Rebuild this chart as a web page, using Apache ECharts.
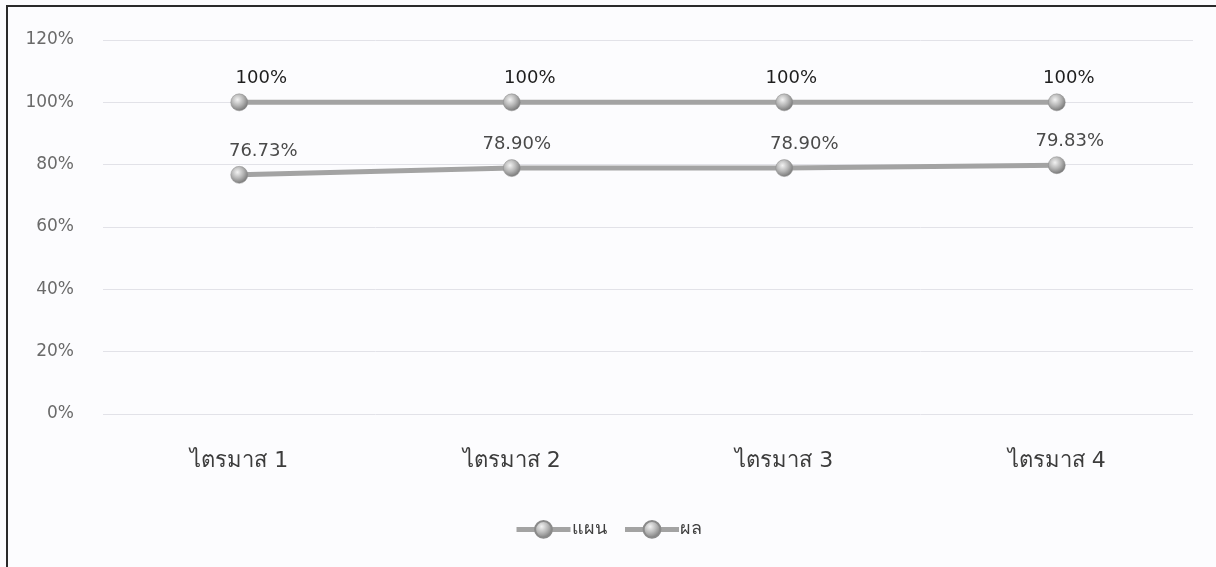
<!DOCTYPE html>
<html><head><meta charset="utf-8">
<script src="https://cdn.jsdelivr.net/npm/echarts@6/dist/echarts.min.js"></script>
<style>
html,body{margin:0;padding:0;background:#fcfcfe;}
#frame{position:absolute;left:6px;top:5px;width:1210px;height:562px;border-left:2px solid #2a2a2a;border-top:2px solid #2a2a2a;}
#c{position:absolute;left:0;top:0;width:1216px;height:567px;}
</style></head>
<body>
<div id="frame"></div>
<div id="c"></div>
<script>
const categories = ['ไตรมาส 1', 'ไตรมาส 2', 'ไตรมาส 3', 'ไตรมาส 4'];
const planValues = [100, 100, 100, 100];
const resultValues = [76.73, 78.90, 78.90, 79.83];
const planLabels = ['100%', '100%', '100%', '100%'];
const resultLabels = ['76.73%', '78.90%', '78.90%', '79.83%'];
const yTicks = [0, 20, 40, 60, 80, 100, 120];

// label placement (style only, as placed by hand in the original)
const planLabelDx = [22, 18, 7, 12];
const resultLabelDx = [24, 5, 20, 13];

const FONT = '"DejaVu Sans", "Noto Sans", sans-serif';
const sphere = {
  type: 'radial', x: 0.4, y: 0.35, r: 0.7,
  colorStops: [
    {offset: 0, color: '#f2f2f2'},
    {offset: 0.5, color: '#b4b4b4'},
    {offset: 1, color: '#6e6e6e'}
  ]
};
function mkSeries(name, vals, labels, dx, labelColor) {
  return {
    name: name, type: 'line',
    data: vals.map((v, i) => ({value: v, label: {offset: [dx[i], 0]}})),
    symbol: 'circle', symbolSize: 17,
    lineStyle: {color: '#a3a3a3', width: 5},
    itemStyle: {color: sphere, borderColor: '#8a8a8a', borderWidth: 0.5},
    label: {
      show: true, position: 'top', distance: 6,
      formatter: p => labels[p.dataIndex],
      fontFamily: FONT, fontSize: 18, color: labelColor
    },
    emphasis: {disabled: true}
  };
}
const chart = echarts.init(document.getElementById('c'));
chart.setOption({
  animation: false,
  backgroundColor: 'transparent',
  textStyle: {fontFamily: FONT},
  grid: {left: 103, right: 23, top: 40, bottom: 153, containLabel: false},
  legend: {
    top: 515, left: 'center',
    itemWidth: 54, itemHeight: 21, itemGap: 16,
    lineStyle: {width: 5},
    textStyle: {fontFamily: FONT, fontSize: 18, color: '#404040', padding: [0,0,0,-4]},
    data: ['แผน', 'ผล']
  },
  xAxis: {
    type: 'category', data: categories, boundaryGap: true,
    axisLine: {show: false}, axisTick: {show: false},
    axisLabel: {fontFamily: FONT, fontSize: 22, color: '#3c3c3c', margin: 36}
  },
  yAxis: {
    type: 'value', min: 0, max: 120, interval: 20,
    axisLine: {show: false}, axisTick: {show: false},
    splitLine: {lineStyle: {color: '#e2e2e8', width: 1}},
    axisLabel: {fontFamily: FONT, fontSize: 17, color: '#6a6a6a', margin: 29,
      formatter: v => yTicks.includes(v) ? v + '%' : ''}
  },
  series: [
    mkSeries('แผน', planValues, planLabels, planLabelDx, '#1e1e1e'),
    mkSeries('ผล', resultValues, resultLabels, resultLabelDx, '#4a4a4a')
  ]
});
</script>
</body></html>
